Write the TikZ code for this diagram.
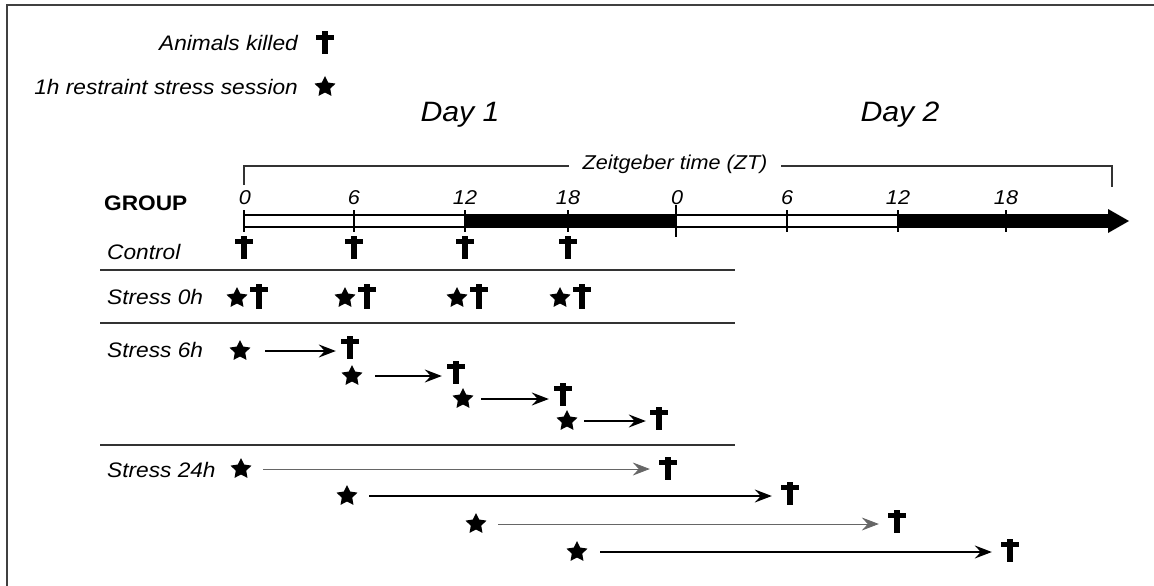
\documentclass[tikz,border=0pt]{standalone}
\usepackage{fontspec}
\newfontfamily\lab{Liberation Sans}[FakeStretch=1.08]
\usetikzlibrary{shapes.geometric,arrows.meta}
\begin{document}
\begin{tikzpicture}[x=1pt,y=-1pt,
 lbl/.style={font=\lab\itshape\fontsize{21}{25}\selectfont, inner sep=0},
 daylbl/.style={font=\lab\itshape\fontsize{28}{33}\selectfont, inner sep=0},
 ztlbl/.style={font=\lab\itshape\fontsize{20}{24}\selectfont, inner sep=0},
 grp/.style={font=\lab\bfseries\fontsize{21}{25}\selectfont, inner sep=0},
 stressstar/.style={star, star points=5, star point ratio=2.0, fill=black, draw=none, minimum size=22pt, inner sep=0},
 killcross/.style={minimum width=18pt, minimum height=23pt, inner sep=0, path picture={
   \fill ([xshift=-2.6pt]path picture bounding box.north) rectangle ([xshift=2.6pt]path picture bounding box.south);
   \fill ([yshift=-3.5pt]path picture bounding box.north west) rectangle ([yshift=-8.2pt]path picture bounding box.north east);}},
 sepline/.style={draw=black!80, line width=1.3pt},
 arr/.style={-{Stealth[length=17pt,width=13pt,inset=6pt]}, line width=1.3pt},
 thinarr/.style={arr, line width=0.8pt, draw=black!60, fill=black!85},
 tickline/.style={line width=1.1pt},
 ]
\useasboundingbox (0,0) rectangle (1154,586);
% frame
\draw[line width=2pt, black!75] (7,586) -- (7,5) -- (1154,5);

% legend
\node[lbl, anchor=east] (legk) at (298,43) {Animals killed};
\node[killcross] (legkc) at (325,43) {};
\node[lbl, anchor=east] (legs) at (298,87) {1h restraint stress session};
\node[stressstar] (legss) at (325,87) {};

% days
\node[daylbl] (day1) at (460,115) {Day 1};
\node[daylbl] (day2) at (900,115) {Day 2};

% bracket
\draw[line width=1.1pt, black!80] (244,185) -- (244,166) -- (1112,166) -- (1112,187);
\node[ztlbl, fill=white, inner xsep=14pt, inner ysep=2pt] (zt) at (675,164) {Zeitgeber time (ZT)};

% axis
\fill (465,215) rectangle (676,227);
\fill (898,215) rectangle (1108,227);
\draw[tickline] (244,215) -- (1108,215);
\draw[tickline] (244,227) -- (1108,227);
\fill (1108,209) -- (1129,221) -- (1108,233) -- cycle;
\foreach \xx in {244,354,465,568,787,898,1006}
  \draw[tickline] (\xx,210) -- (\xx,232);
\draw[line width=2.4pt] (676,205) -- (676,237);
\foreach \xx/\tt/\nm in {245/0/a,354/6/b,465/12/c,568/18/d,677/0/e,787/6/f,898/12/g,1006/18/h}
  \node[ztlbl] (zt\nm) at (\xx,198) {\tt};

\node[grp, anchor=west] (group) at (104,203) {GROUP};

% Control
\node[lbl, anchor=west] (ctl) at (107,252) {Control};
\foreach \xx/\nm in {244/a,354/b,465/c,568/d}
  \node[killcross] (kc\nm) at (\xx,247) {};
\draw[sepline] (100,270) -- (735,270);

% Stress 0h
\node[lbl, anchor=west] (s0lbl) at (107,297) {Stress 0h};
\foreach \xx/\nm in {237/a,345/b,457/c,560/d}{
  \node[stressstar] (s0\nm) at (\xx,298) {};
  \node[killcross, minimum height=25pt] (k0\nm) at (\xx+22,296) {};}
\draw[sepline] (100,323) -- (735,323);

% Stress 6h
\node[lbl, anchor=west] (s6lbl) at (107,350) {Stress 6h};
\node[stressstar] (s6a) at (240,351) {};
\node[killcross] (k6a) at (350,347) {};
\node[stressstar] (s6b) at (352,376) {};
\node[killcross] (k6b) at (456,372) {};
\node[stressstar] (s6c) at (463,399) {};
\node[killcross] (k6c) at (563,394) {};
\node[stressstar] (s6d) at (567,421) {};
\node[killcross] (k6d) at (659,418) {};
\draw[arr, shorten <=18pt, shorten >=5pt] (s6a) -- (s6a -| k6a.west);
\draw[arr, shorten <=16pt, shorten >=5pt] (s6b) -- (s6b -| k6b.west);
\draw[arr, shorten <=11pt, shorten >=5pt] (s6c) -- (s6c -| k6c.west);
\draw[arr, shorten <=10pt, shorten >=4pt] (s6d) -- (s6d -| k6d.west);
\draw[sepline] (100,445) -- (735,445);

% Stress 24h
\node[lbl, anchor=west] (s24lbl) at (107,470) {Stress 24h};
\node[stressstar] (t24a) at (241,469) {};
\node[killcross] (q24a) at (668,468) {};
\node[stressstar] (t24b) at (347,496) {};
\node[killcross] (q24b) at (790,493) {};
\node[stressstar] (t24c) at (476,524) {};
\node[killcross] (q24c) at (897,521) {};
\node[stressstar] (t24d) at (577,552) {};
\node[killcross] (q24d) at (1010,550) {};
\draw[thinarr, shorten <=15pt, shorten >=9pt] (t24a) -- (t24a -| q24a.west);
\draw[arr, shorten <=15pt, shorten >=9pt] (t24b) -- (t24b -| q24b.west);
\draw[thinarr, shorten <=15pt, shorten >=9pt] (t24c) -- (t24c -| q24c.west);
\draw[arr, shorten <=16pt, shorten >=9pt] (t24d) -- (t24d -| q24d.west);
\end{tikzpicture}
\end{document}
